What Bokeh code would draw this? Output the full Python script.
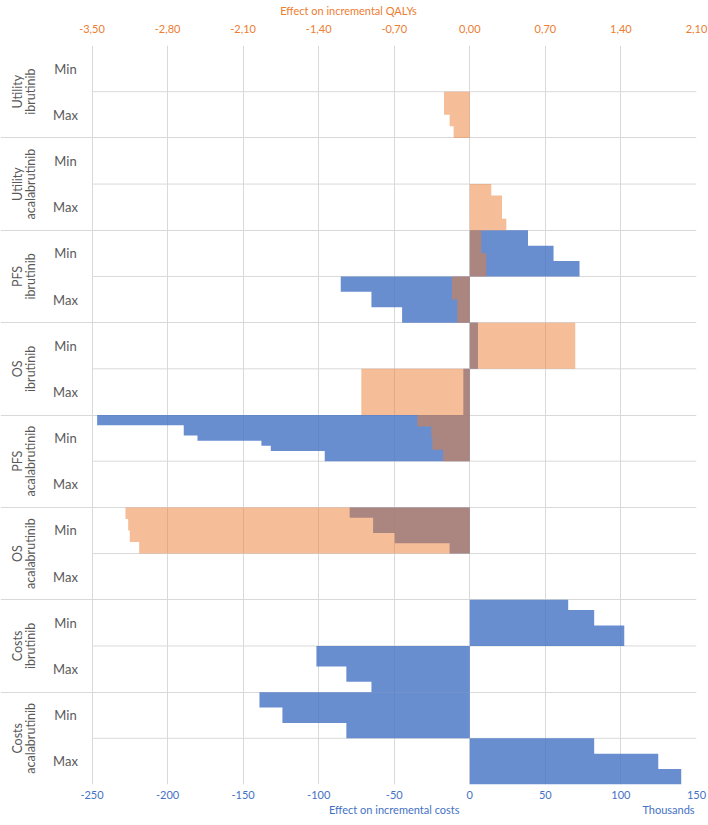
import numpy as np
from bokeh.plotting import figure
from bokeh.models import Range1d, LinearAxis, FixedTicker
from bokeh.embed import file_html
from bokeh.resources import INLINE
from bokeh.core.properties import value

# ---------------- data ----------------
group_names = [("Utility", "ibrutinib"), ("Utility", "acalabrutinib"),
               ("PFS", "ibrutinib"), ("OS", "ibrutinib"),
               ("PFS", "acalabrutinib"), ("OS", "acalabrutinib"),
               ("Costs", "ibrutinib"), ("Costs", "acalabrutinib")]
row_labels = ["Min", "Max"]

cost_ticks = [-250, -200, -150, -100, -50, 0, 50, 100, 150]
cost_tick_labels = ["-250", "-200", "-150", "-100", "-50", "0", "50", "100", "150"]
qaly_ticks = [-3.5, -2.8, -2.1, -1.4, -0.7, 0.0, 0.7, 1.4, 2.1]
qaly_tick_labels = ["-3,50", "-2,80", "-2,10", "-1,40", "-0,70", "0,00", "0,70", "1,40", "2,10"]
cost_title = "Effect on incremental costs"
cost_units = "Thousands"
qaly_title = "Effect on incremental QALYs"

# Effect on incremental costs (thousands); 9 sub-bars per row, rows top to bottom
cost_effect = [
    [0, 0, 0, 0, 0, 0, 0, 0, 0],                                   # Utility ibrutinib Min
    [0, 0, 0, 0, 0, 0, 0, 0, 0],                                   # Utility ibrutinib Max
    [0, 0, 0, 0, 0, 0, 0, 0, 0],                                   # Utility acalabrutinib Min
    [0, 0, 0, 0, 0, 0, 0, 0, 0],                                   # Utility acalabrutinib Max
    [38.5, 38.5, 38.5, 55.4, 55.4, 55.4, 72.6, 72.6, 72.6],        # PFS ibrutinib Min
    [-85.4, -85.4, -85.4, -65.1, -65.1, -65.1, -44.8, -44.8, -44.8],  # PFS ibrutinib Max
    [5.4, 5.4, 5.4, 5.4, 5.4, 5.4, 5.4, 5.4, 5.4],                 # OS ibrutinib Min
    [-4.3, -4.3, -4.3, -4.3, -4.3, -4.3, -4.3, -4.3, -4.3],        # OS ibrutinib Max
    [-246.6, -246.6, -189.3, -189.3, -180.2, -137.9, -131.7, -96.0, -96.0],  # PFS acalabrutinib Min
    [0, 0, 0, 0, 0, 0, 0, 0, 0],                                   # PFS acalabrutinib Max
    [-79.5, -79.5, -64.0, -64.0, -64.0, -49.7, -49.7, -13.4, -13.4],  # OS acalabrutinib Min
    [0, 0, 0, 0, 0, 0, 0, 0, 0],                                   # OS acalabrutinib Max
    [65.1, 65.1, 82.3, 82.3, 82.3, 102.2, 102.2, 102.2, 102.2],    # Costs ibrutinib Min
    [-101.5, -101.5, -101.5, -101.5, -81.7, -81.7, -81.7, -65.1, -65.1],  # Costs ibrutinib Max
    [-139.2, -139.2, -139.2, -124.0, -124.0, -124.0, -81.7, -81.7, -81.7],  # Costs acalabrutinib Min
    [82.3, 82.3, 82.3, 124.7, 124.7, 124.7, 139.9, 139.9, 139.9],  # Costs acalabrutinib Max
]

# Effect on incremental QALYs; 4 sub-bars per row, rows top to bottom
qaly_effect = [
    [0, 0, 0, 0],
    [-0.239, -0.239, -0.187, -0.150],
    [0, 0, 0, 0],
    [0.199, 0.298, 0.298, 0.338],
    [0.106, 0.106, 0.153, 0.153],
    [-0.165, -0.165, -0.116, -0.116],
    [0.977, 0.977, 0.977, 0.977],
    [-1.005, -1.005, -1.005, -1.005],
    [-0.486, -0.356, -0.347, -0.248],
    [0, 0, 0, 0],
    [-3.19, -3.165, -3.15, -3.063],
    [0, 0, 0, 0],
    [0, 0, 0, 0],
    [0, 0, 0, 0],
    [0, 0, 0, 0],
    [0, 0, 0, 0],
]

# ---------------- layout ----------------
W, H = 708, 825
LEFT_PX = 91.5        # label area inside the frame, left of the -250 line
BORDER_R = 12
BORDER_T = 45
BORDER_B = 41
UNITS_HALF_PX = 28    # half width of the "Thousands" text, right-aligned at the last tick
FRAME_W = W - BORDER_R
XMIN, XMAX = cost_ticks[0], cost_ticks[-1]
QMIN, QMAX = qaly_ticks[0], qaly_ticks[-1]
units_per_px = (XMAX - XMIN) / (FRAME_W - LEFT_PX)
x_start = XMIN - LEFT_PX * units_per_px
k = XMAX / QMAX
q_start = x_start / k
n_rows = len(cost_effect)

FONT = value("Lato")
BLUE = "#4472C4"
ORANGE = "#ED7D31"
GRID = "#D9D9D9"
GREY = "#595959"

def px_to_x(px):
    return x_start + px * units_per_px

p = figure(width=W, height=H, x_range=Range1d(x_start, XMAX), y_range=Range1d(n_rows, 0),
           output_backend="svg", toolbar_location=None, y_axis_location=None,
           min_border_left=0, min_border_right=BORDER_R,
           min_border_top=BORDER_T, min_border_bottom=BORDER_B)
p.extra_x_ranges = {"qaly": Range1d(q_start, QMAX)}
p.outline_line_color = None
p.background_fill_color = "white"
p.border_fill_color = "white"

def style_axis(ax, color, standoff):
    ax.axis_line_color = None
    ax.major_tick_line_color = None
    ax.minor_tick_line_color = None
    ax.major_tick_out = 0
    ax.major_tick_in = 0
    ax.minor_tick_out = 0
    ax.minor_tick_in = 0
    ax.major_label_text_color = color
    ax.major_label_text_font = "Lato"
    ax.major_label_text_font_size = "11px"
    ax.major_label_standoff = standoff

# bottom axis (costs): tick labels
xa = p.xaxis[0]
xa.ticker = FixedTicker(ticks=cost_ticks)
xa.major_label_overrides = {t: s for t, s in zip(cost_ticks, cost_tick_labels)}
style_axis(xa, BLUE, 6)

# second bottom line: axis title centred on the plot area, display units at the right end
title_pos = (XMIN + XMAX) / 2
units_pos = XMAX - UNITS_HALF_PX * units_per_px
xb = LinearAxis(ticker=FixedTicker(ticks=[title_pos, units_pos]),
                major_label_overrides={title_pos: cost_title, units_pos: cost_units})
style_axis(xb, BLUE, 1)
p.add_layout(xb, "below")

# top axis (QALYs)
ta = LinearAxis(x_range_name="qaly", ticker=FixedTicker(ticks=qaly_ticks),
                major_label_overrides={t: s for t, s in zip(qaly_ticks, qaly_tick_labels)})
ta.bounds = (QMIN, QMAX)
style_axis(ta, ORANGE, 13)
ta.axis_label = qaly_title
ta.axis_label_text_color = ORANGE
ta.axis_label_text_font = "Lato"
ta.axis_label_text_font_size = "11px"
ta.axis_label_text_font_style = "normal"
ta.axis_label_standoff = 5
p.add_layout(ta, "above")

# grid: vertical lines at the ticks, horizontal group borders across the full width
p.xgrid.ticker = FixedTicker(ticks=cost_ticks)
p.xgrid.grid_line_color = GRID
p.ygrid.ticker = FixedTicker(ticks=list(range(0, n_rows + 1, 2)))
p.ygrid.grid_line_color = GRID

# Min/Max separators (only inside the plotting area)
sep_y = list(range(1, n_rows, 2))
p.segment(x0=[XMIN] * len(sep_y), x1=[XMAX] * len(sep_y), y0=sep_y, y1=sep_y,
          line_color=GRID, line_width=1)

def staircase(rows):
    """one outline per row: sub-bars of equal height stacked inside the row"""
    xs, ys = [], []
    for r, vals in enumerate(rows):
        if all(v == 0 for v in vals):
            continue
        n = len(vals)
        px, py = [0], [r]
        for i, v in enumerate(vals):
            px += [v, v]
            py += [r + i / n, r + (i + 1) / n]
        px.append(0)
        py.append(r + 1)
        xs.append(px)
        ys.append(py)
    return xs, ys

cxs, cys = staircase(cost_effect)
qxs, qys = staircase(qaly_effect)
p.patches(xs=cxs, ys=cys, fill_color=BLUE, fill_alpha=0.8, line_color=None)
p.patches(xs=qxs, ys=qys, fill_color=ORANGE, fill_alpha=0.5, line_color=None,
          x_range_name="qaly")

# category labels (left part of the frame)
row_y = [r + 0.5 for r in range(n_rows)]
row_txt = [row_labels[r % 2] for r in range(n_rows)]
p.text(x=[px_to_x(65)] * n_rows, y=row_y, text=row_txt, text_font=FONT,
       text_font_size="13px", text_color=GREY, text_align="center", text_baseline="middle")

g_y = [2 * g + 1 for g in range(len(group_names))]
p.text(x=[px_to_x(16.5)] * len(g_y), y=g_y, text=[g[0] for g in group_names], angle=np.pi / 2,
       text_font=FONT, text_font_size="12.5px", text_color=GREY,
       text_align="center", text_baseline="middle")
p.text(x=[px_to_x(30)] * len(g_y), y=g_y, text=[g[1] for g in group_names], angle=np.pi / 2,
       text_font=FONT, text_font_size="12.5px", text_color=GREY,
       text_align="center", text_baseline="middle")

open("out.html", "w").write(file_html(p, INLINE))
